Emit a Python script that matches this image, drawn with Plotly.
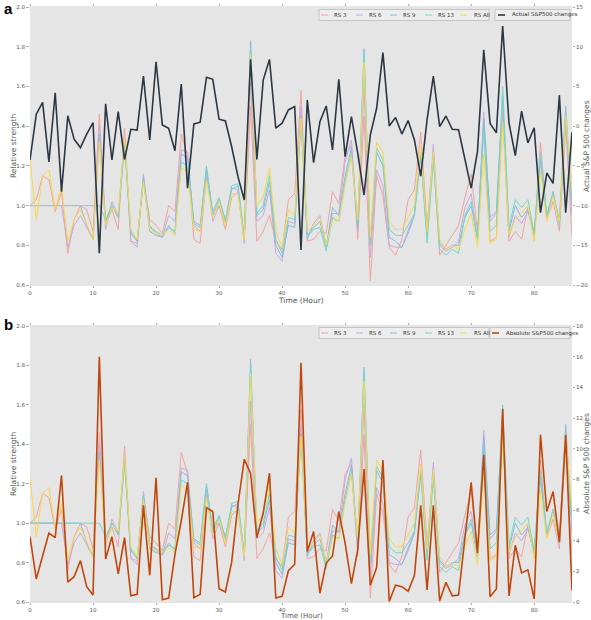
import plotly.graph_objects as go

hours = list(range(87))

rs3 = [1.0, 1.03, 1.15, 1.13, 0.97, 1.07, 0.76, 0.93, 1.0, 0.98, 0.87, 1.46, 0.9, 0.98, 0.88, 1.39, 0.82, 0.81, 1.13, 0.93,
       0.9, 0.86, 1.0, 0.97, 1.36, 1.25, 0.83, 0.81, 1.15, 0.96, 1.0, 0.88, 1.04, 1.07, 0.84, 1.5, 0.82, 0.87, 0.95, 0.82,
       0.78, 1.03, 1.06, 1.58, 0.82, 0.83, 0.87, 0.86, 1.07, 1.01, 1.25, 1.3, 0.83, 1.45, 0.62, 1.15, 1.05, 0.79, 0.75, 0.83,
       1.03, 1.08, 1.37, 0.9, 1.25, 0.75, 0.8, 0.85, 0.9, 1.04, 1.16, 0.87, 1.4, 0.82, 0.84, 1.47, 0.82, 0.87, 0.83, 0.99,
       0.84, 1.32, 0.93, 1.02, 0.87, 1.4, 0.84]
rs6 = [1.0, 1.0, 1.0, 1.0, 1.0, 1.0, 0.79, 0.9, 0.95, 0.89, 0.83, 1.41, 0.88, 1.02, 0.95, 1.34, 0.82, 0.79, 1.16, 0.9,
       0.86, 0.84, 0.95, 0.92, 1.28, 1.27, 0.9, 0.87, 1.17, 0.92, 1.0, 0.91, 1.09, 1.08, 0.81, 1.62, 0.92, 0.95, 1.08, 0.76,
       0.72, 0.92, 0.91, 1.5, 0.83, 0.91, 0.95, 0.8, 0.96, 0.96, 1.22, 1.33, 0.87, 1.6, 0.74, 1.18, 1.1, 0.8, 0.79, 0.79,
       0.88, 0.96, 1.27, 0.85, 1.31, 0.8, 0.77, 0.79, 0.82, 0.99, 1.06, 0.83, 1.47, 0.92, 0.96, 1.52, 0.84, 0.95, 0.91, 0.97,
       0.85, 1.22, 0.93, 1.07, 0.91, 1.42, 0.95]
rs9 = [1.0, 1.0, 1.0, 1.0, 1.0, 1.0, 1.0, 1.0, 1.0, 0.9, 0.83, 1.36, 0.92, 1.0, 0.94, 1.32, 0.86, 0.82, 1.14, 0.87,
       0.85, 0.84, 0.89, 0.87, 1.26, 1.24, 0.92, 0.9, 1.2, 0.95, 1.03, 0.93, 1.08, 1.1, 0.84, 1.83, 0.95, 0.98, 1.12, 0.8,
       0.74, 0.9, 0.89, 1.45, 0.85, 0.89, 0.92, 0.79, 0.99, 0.95, 1.15, 1.29, 0.89, 1.79, 0.8, 1.27, 1.2, 0.84, 0.82, 0.79,
       0.86, 0.95, 1.25, 0.84, 1.26, 0.81, 0.78, 0.8, 0.8, 0.94, 1.0, 0.84, 1.44, 0.94, 0.97, 1.56, 0.87, 1.0, 0.94, 0.98,
       0.86, 1.24, 0.95, 1.06, 0.93, 1.5, 1.0]
rs13 = [1.0, 1.0, 1.0, 1.0, 1.0, 1.0, 1.0, 1.0, 1.0, 1.0, 1.0, 1.0, 0.93, 1.0, 0.94, 1.3, 0.87, 0.82, 1.13, 0.89,
        0.87, 0.85, 0.9, 0.86, 1.22, 1.2, 0.91, 0.89, 1.19, 0.97, 1.04, 0.92, 1.1, 1.11, 0.84, 1.8, 0.96, 1.0, 1.15, 0.83,
        0.76, 0.94, 0.93, 1.42, 0.84, 0.88, 0.89, 0.77, 0.94, 0.92, 1.12, 1.26, 0.9, 1.76, 0.8, 1.29, 1.23, 0.88, 0.85, 0.85,
        0.9, 0.96, 1.27, 0.81, 1.23, 0.78, 0.75, 0.78, 0.76, 0.95, 1.02, 0.83, 1.38, 0.87, 0.9, 1.6, 0.89, 1.03, 0.99, 1.03,
        0.86, 1.27, 0.95, 1.07, 0.9, 1.45, 1.02]
rs_all = [1.23, 0.93, 1.15, 1.18, 0.98, 1.1, 0.82, 0.93, 0.98, 0.9, 0.83, 1.32, 0.9, 0.99, 0.96, 1.34, 0.88, 0.83, 1.12, 0.88,
          0.86, 0.85, 0.88, 0.85, 1.19, 1.17, 0.88, 0.87, 1.13, 0.94, 1.02, 0.9, 1.06, 1.06, 0.83, 1.76, 1.0, 1.04, 1.19, 0.87,
          0.79, 0.98, 0.95, 1.44, 0.87, 0.9, 0.94, 0.8, 0.93, 0.92, 1.1, 1.25, 0.93, 1.72, 0.84, 1.32, 1.27, 0.92, 0.88, 0.88,
          0.94, 1.0, 1.3, 0.87, 1.27, 0.83, 0.78, 0.8, 0.78, 0.88, 0.96, 0.79, 1.26, 0.81, 0.83, 1.42, 0.85, 0.93, 0.96, 1.0,
          0.82, 1.17, 0.92, 1.05, 0.92, 1.45, 1.08]

actual_change = [-4.26, 1.5, 3.0, -4.5, 4.2, -8.25, 1.3, -1.65, -2.7, -1.0, 0.45, -16.0, 2.8, -4.26, 1.83, -4.2, -0.4, -0.5, 6.3, -1.74,
                 8.1, 0.15, -0.26, -3.1, 5.3, -7.8, 0.28, 0.5, 6.16, 5.9, 0.87, 0.65, -2.6, -6.36, -9.3, 8.4, -4.2, 5.8, 8.4, -0.26,
                 0.37, 2.04, 2.46, -15.6, 3.3, -4.6, 0.57, 2.54, -3.0, 5.9, -3.84, 1.2, -3.4, -8.67, -1.1, 2.25, 9.26, 0.03, 1.1, -1.0,
                 0.7, -1.74, -6.3, 0.78, 6.3, -0.06, 1.28, -0.4, -0.45, -4.0, -7.8, -3.2, 9.6, 0.34, -0.85, 12.6, 0.4, -3.7, 1.9, -2.1,
                 -0.2, -10.9, -5.9, -7.2, 3.9, -10.9, -0.76]
absolute_change = [4.26, 1.5, 3.0, 4.5, 4.2, 8.25, 1.3, 1.65, 2.7, 1.0, 0.45, 16.0, 2.8, 4.26, 1.83, 4.2, 0.4, 0.5, 6.3, 1.74,
                   8.1, 0.15, 0.26, 3.1, 5.3, 7.8, 0.28, 0.5, 6.16, 5.9, 0.87, 0.65, 2.6, 6.36, 9.3, 8.4, 4.2, 5.8, 8.4, 0.26,
                   0.37, 2.04, 2.46, 15.6, 3.3, 4.6, 0.57, 2.54, 3.0, 5.9, 3.84, 1.2, 3.4, 8.67, 1.1, 2.25, 9.26, 0.03, 1.1, 1.0,
                   0.7, 1.74, 6.3, 0.78, 6.3, 0.06, 1.28, 0.4, 0.45, 4.0, 7.8, 3.2, 9.6, 0.34, 0.85, 12.6, 0.4, 3.7, 1.9, 2.1,
                   0.2, 10.9, 5.9, 7.2, 3.9, 10.9, 0.76]

rs_names = ["RS 3", "RS 6", "RS 9", "RS 13", "RS All"]
rs_series = [rs3, rs6, rs9, rs13, rs_all]
rs_colors = ["#F4A3A0", "#C9A9E2", "#86BCE0", "#72D9C8", "#F6D84E"]

x_ticks = [0, 10, 20, 30, 40, 50, 60, 70, 80]
left_ticks = [0.6, 0.8, 1.0, 1.2, 1.4, 1.6, 1.8, 2.0]
right_ticks_a = [-20, -15, -10, -5, 0, 5, 10, 15]
right_ticks_b = [0, 2, 4, 6, 8, 10, 12, 14, 16, 18]

W, H = 591, 620
FONT = "DejaVu Sans"
TXT = "#555555"

fig = go.Figure()

# panel a
for name, ys, c in zip(rs_names, rs_series, rs_colors):
    fig.add_trace(go.Scatter(x=hours, y=ys, mode="lines", name=name, showlegend=False,
                             line=dict(color=c, width=1), xaxis="x", yaxis="y"))
fig.add_trace(go.Scatter(x=hours, y=actual_change, mode="lines", name="Actual S&P500 changes", showlegend=False,
                         line=dict(color="#2B3844", width=1.6), xaxis="x", yaxis="y2"))
# panel b
for name, ys, c in zip(rs_names, rs_series, rs_colors):
    fig.add_trace(go.Scatter(x=hours, y=ys, mode="lines", name=name, showlegend=False,
                             line=dict(color=c, width=1), xaxis="x2", yaxis="y3"))
fig.add_trace(go.Scatter(x=hours, y=absolute_change, mode="lines", name="Absolute S&P500 changes", showlegend=False,
                         line=dict(color="#C2460C", width=1.6), xaxis="x2", yaxis="y4"))

xdom = [30 / W, 572 / W]
dom_a = [1 - 285 / H, 1 - 7 / H]
dom_b = [1 - 602 / H, 1 - 326 / H]

tickfont = dict(family=FONT, size=5.5, color=TXT)
titlefont = dict(family=FONT, size=7.5, color=TXT)
titlefont_b = dict(family=FONT, size=7, color=TXT)

def xax(anchor):
    return dict(domain=xdom, range=[0, 86], anchor=anchor, tickvals=x_ticks, ticks="outside", ticklen=2,
                tickcolor="#AAAAAA", tickfont=tickfont, showgrid=False, zeroline=False, showline=True,
                linecolor="#E5E5E5", mirror="ticks", automargin=False)

def yleft(dom, anchor):
    return dict(domain=dom, range=[0.6, 2.0], anchor=anchor, tickvals=left_ticks, tickformat=".1f",
                ticks="outside", ticklen=3, tickcolor="#AAAAAA", tickfont=tickfont, showgrid=False,
                zeroline=False, automargin=False)

def yright(over, anchor, rng, tv):
    return dict(overlaying=over, side="right", anchor=anchor, range=rng, tickvals=tv, ticks="outside",
                ticklen=2, tickcolor="#AAAAAA", tickfont=tickfont, showgrid=False, zeroline=False,
                automargin=False)

fig.update_layout(
    width=W, height=H, margin=dict(l=0, r=0, t=0, b=0),
    paper_bgcolor="white", plot_bgcolor="#E5E5E5",
    xaxis=xax("y"), yaxis=yleft(dom_a, "x"),
    yaxis2=yright("y", "x", [-20, 15], right_ticks_a),
    xaxis2=xax("y3"), yaxis3=yleft(dom_b, "x2"),
    yaxis4=yright("y3", "x2", [0, 18], right_ticks_b),
    showlegend=False,
)

shapes = []
annotations = []

def px(xp):
    return xp / W

def py(yp):
    return 1 - yp / H

def label(text, x, y, angle=0, font=titlefont, xanchor="center", yanchor="middle", pad=1):
    annotations.append(dict(text=text, x=px(x), y=py(y), xref="paper", yref="paper", xanchor=xanchor,
                            yanchor=yanchor, showarrow=False, textangle=angle, font=font, borderpad=pad))

# panel letters
letter_font = dict(family="Liberation Sans", size=15, color="black")
label("<b>a</b>", 2, -2, font=letter_font, xanchor="left", yanchor="top")
label("<b>b</b>", 2, 314, font=letter_font, xanchor="left", yanchor="top")

# axis titles
label("Time (Hour)", 301, 300)
label("Time (Hour)", 301, 616, font=titlefont_b, pad=0)
label("Relative strength", 13, 146, angle=-90)
label("Relative strength", 13, 464, angle=-90)
label("Actual S&P 500 changes", 586, 146, angle=-90)
label("Absolute S&P 500 changes", 586, 464, angle=-90)

leg_font = dict(family=FONT, size=5.5, color="#333333")

def legend(ycen, box1, box2, line_x, text_x, big_name, big_color):
    for (x0, x1) in (box1, box2):
        shapes.append(dict(type="rect", xref="paper", yref="paper", x0=px(x0), x1=px(x1), y0=py(ycen + 5.5),
                           y1=py(ycen - 5.5), fillcolor="#EDEDED", line=dict(color="#BDBDBD", width=0.8)))
    names = rs_names + [big_name]
    colors = rs_colors + [big_color]
    for i, (n, c) in enumerate(zip(names, colors)):
        lx = line_x[i]
        shapes.append(dict(type="line", xref="paper", yref="paper", x0=px(lx), x1=px(lx + 7),
                           y0=py(ycen), y1=py(ycen), line=dict(color=c, width=1.6 if i == 5 else 1)))
        label(n, text_x[i], ycen, font=leg_font, xanchor="left")

legend(15, (319, 489), (495, 570), [321, 356, 390, 425, 460, 498], [332, 367, 401, 436, 472, 510],
       "Actual S&P500 changes", "#2B3844")
legend(333, (319, 489), (490, 570), [321, 356, 390, 425, 460, 492], [332, 367, 401, 436, 472, 504],
       "Absolute S&P500 changes", "#C2460C")

fig.update_layout(shapes=shapes, annotations=annotations)

fig.write_html("out.html", config={"displayModeBar": False},
               post_script="document.body.style.margin='0';document.body.style.padding='0';")
